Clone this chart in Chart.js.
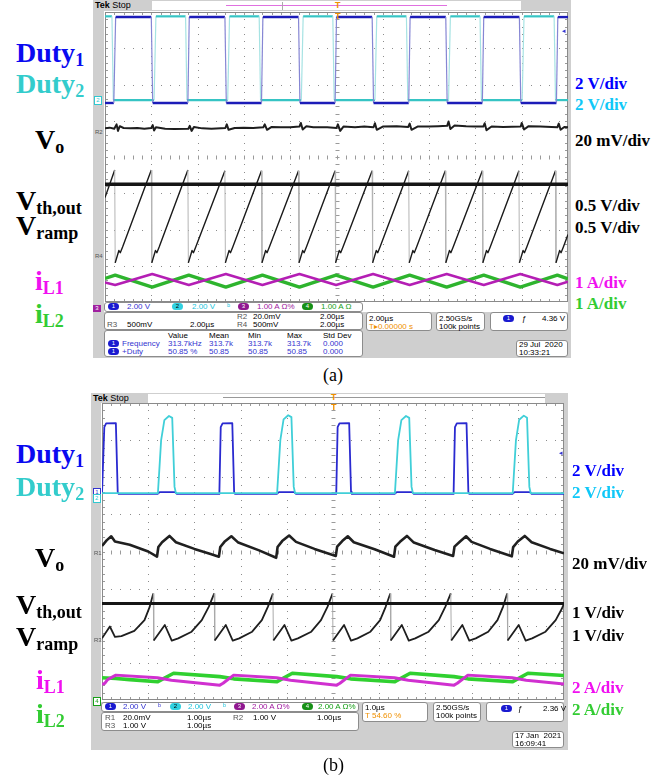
<!DOCTYPE html>
<html lang="pt">
<head>
<meta charset="utf-8">
<title>Duty / Vo / Vramp / iL</title>
<script src="https://cdn.jsdelivr.net/npm/chart.js@4.4.1/dist/chart.umd.min.js"></script>
<style>
  html, body { margin: 0; padding: 0; }
  body { width: 669px; height: 782px; position: relative; overflow: hidden; background: #fff; font-family: 'Liberation Sans', Arial, sans-serif; }
  .frame { position: absolute; background: #cfcfcf; }
  .white { position: absolute; background: #fff; }
  .box { position: absolute; background: #fff; border: 1px solid #8c8c8c; border-radius: 3px; box-sizing: border-box; }
  .ro { position: absolute; white-space: nowrap; font-size: 8px; line-height: 8px; color: #000; }
  .c1 { color: #3434d0; } .c2 { color: #20c4dc; } .c3 { color: #a01aa0; } .c4 { color: #18a018; } .co { color: #f09000; }
  .oval { position: absolute; height: 7px; width: 11px; border-radius: 4px; font-size: 6px; line-height: 7px; text-align: center; color: #fff; }
  .o1 { background: #1a1ad0; } .o2 { background: #30d0e0; color: #000; } .o3 { background: #901890; } .o4 { background: #169016; }
  .mk { position: absolute; font-size: 6px; line-height: 7px; color: #555; white-space: nowrap; }
  .name { position: absolute; white-space: nowrap; font-family: 'Liberation Serif', 'Times New Roman', serif; font-weight: bold; font-size: 28px; line-height: 28px; }
  .name sub { font-size: 18px; line-height: 0; vertical-align: baseline; position: relative; top: 4px; }
  .scale { position: absolute; white-space: nowrap; font-family: 'Liberation Serif', 'Times New Roman', serif; font-weight: bold; font-size: 17px; line-height: 17px; }
  .cap { position: absolute; font-family: 'Liberation Serif', 'Times New Roman', serif; font-size: 18px; line-height: 18px; }
  .trig { position: absolute; font-size: 9px; line-height: 9px; font-weight: bold; color: #f09000; }
  canvas { position: absolute; }
</style>
</head>
<body>

<!-- ================= (a) ================= -->
<div class="frame" style="left:93px; top:0; width:478px; height:358px;"></div>
<div class="white" style="left:152px; top:1px; width:369px; height:9px;"></div>
<div style="position:absolute; left:226px; top:5px; width:221px; height:1px; background:#e070e0;"></div>
<div style="position:absolute; left:282px; top:2px; width:1px; height:8px; background:#aaa;"></div>
<div class="ro" style="left:95px; top:1px; font-size:9px; line-height:9px;"><b>Tek</b> Stop</div>
<div class="white" style="left:104px; top:11px; width:464px; height:301px;"></div>
<canvas id="scopeA" width="463" height="290" style="left:105px; top:12px;"></canvas>
<div class="trig" style="left:335px; top:1px;">T</div>
<div class="trig" style="left:335px; top:12px;">T</div>
<div class="ro c1" style="left:562px; top:27px; font-size:7px;">&#9666;</div>

<div class="mk" style="left:94px; top:96px; border:1px solid #30c8d0; color:#30c8d0; background:#fff; width:6px; text-align:center;">2</div>
<div class="mk" style="left:95px; top:129px;">R2</div>
<div class="mk" style="left:95px; top:253px;">R4</div>
<div class="mk" style="left:93px; top:305px; background:#a020a0; color:#fff; width:8px; text-align:center;">3</div>

<div class="box" style="left:104px; top:302px; width:259px; height:10px;"></div>
<div class="oval o1" style="left:108px; top:303px;">1</div>
<div class="ro c1" style="left:127px; top:303px;">2.00 V</div>
<div class="oval o2" style="left:172px; top:303px;">2</div>
<div class="ro c2" style="left:192px; top:303px;">2.00 V</div>
<div class="ro c2" style="left:227px; top:303px;">ᵇ</div>
<div class="oval o3" style="left:238px; top:303px;">3</div>
<div class="ro c3" style="left:257px; top:303px;">1.00 A Ω%</div>
<div class="oval o4" style="left:302px; top:303px;">4</div>
<div class="ro c4" style="left:321px; top:303px;">1.00 A Ω</div>

<div class="box" style="left:104px; top:312px; width:259px; height:18px;"></div>
<div class="ro" style="left:237px; top:313px; color:#555;">R2</div>
<div class="ro" style="left:253px; top:313px;">20.0mV</div>
<div class="ro" style="left:320px; top:313px;">2.00µs</div>
<div class="ro" style="left:107px; top:321px; color:#555;">R3</div>
<div class="ro" style="left:127px; top:321px;">500mV</div>
<div class="ro" style="left:190px; top:321px;">2.00µs</div>
<div class="ro" style="left:237px; top:321px; color:#555;">R4</div>
<div class="ro" style="left:253px; top:321px;">500mV</div>
<div class="ro" style="left:320px; top:321px;">2.00µs</div>

<div class="box" style="left:104px; top:330px; width:259px; height:27px;"></div>
<div class="ro" style="left:168px; top:332px;">Value</div>
<div class="ro" style="left:209px; top:332px;">Mean</div>
<div class="ro" style="left:248px; top:332px;">Min</div>
<div class="ro" style="left:287px; top:332px;">Max</div>
<div class="ro" style="left:323px; top:332px;">Std Dev</div>
<div class="oval o1" style="left:108px; top:340px;">1</div>
<div class="ro c1" style="left:122px; top:340px;">Frequency</div>
<div class="ro c1" style="left:168px; top:340px;">313.7kHz</div>
<div class="ro c1" style="left:209px; top:340px;">313.7k</div>
<div class="ro c1" style="left:248px; top:340px;">313.7k</div>
<div class="ro c1" style="left:287px; top:340px;">313.7k</div>
<div class="ro c1" style="left:323px; top:340px;">0.000</div>
<div class="oval o1" style="left:108px; top:348px;">1</div>
<div class="ro c1" style="left:122px; top:348px;">+Duty</div>
<div class="ro c1" style="left:168px; top:348px;">50.85 %</div>
<div class="ro c1" style="left:209px; top:348px;">50.85</div>
<div class="ro c1" style="left:248px; top:348px;">50.85</div>
<div class="ro c1" style="left:287px; top:348px;">50.85</div>
<div class="ro c1" style="left:323px; top:348px;">0.000</div>

<div class="box" style="left:366px; top:312px; width:66px; height:19px;"></div>
<div class="ro" style="left:369px; top:315px;">2.00µs</div>
<div class="ro co" style="left:369px; top:323px;">T▸0.00000 s</div>
<div class="box" style="left:436px; top:312px; width:49px; height:19px;"></div>
<div class="ro" style="left:439px; top:315px;">2.50GS/s</div>
<div class="ro" style="left:439px; top:323px;">100k points</div>
<div class="box" style="left:490px; top:312px; width:78px; height:19px;"></div>
<div class="oval o1" style="left:503px; top:315px;">1</div>
<div class="ro" style="left:522px; top:315px;">ƒ</div>
<div class="ro" style="left:542px; top:315px;">4.36 V</div>
<div class="box" style="left:516px; top:340px; width:52px; height:17px;"></div>
<div class="ro" style="left:519px; top:341px;">29 Jul&nbsp; 2020</div>
<div class="ro" style="left:519px; top:349px;">10:33:21</div>

<div class="name" style="left:16px; top:39px; color:#0a0af0;">Duty<sub>1</sub></div>
<div class="name" style="left:16px; top:70px; color:#33cccc;">Duty<sub>2</sub></div>
<div class="name" style="left:35px; top:126px; color:#000;">V<sub>o</sub></div>
<div class="name" style="left:16px; top:187px; color:#000;">V<sub>th,out</sub></div>
<div class="name" style="left:16px; top:212px; color:#000;">V<sub>ramp</sub></div>
<div class="name" style="left:35px; top:267px; color:#f010f0;">i<sub>L1</sub></div>
<div class="name" style="left:35px; top:300px; color:#33cc33;">i<sub>L2</sub></div>

<div class="scale" style="left:575px; top:75px; color:#0000ff;">2 V/div</div>
<div class="scale" style="left:575px; top:96px; color:#10c8f8;">2 V/div</div>
<div class="scale" style="left:575px; top:132px; color:#000;">20 mV/div</div>
<div class="scale" style="left:575px; top:197px; color:#000;">0.5 V/div</div>
<div class="scale" style="left:575px; top:219px; color:#000;">0.5 V/div</div>
<div class="scale" style="left:575px; top:274px; color:#f010f0;">1 A/div</div>
<div class="scale" style="left:575px; top:295px; color:#33cc33;">1 A/div</div>

<div class="cap" style="left:323px; top:366px;">(a)</div>

<!-- ================= (b) ================= -->
<div class="frame" style="left:91px; top:393px; width:477px; height:357px;"></div>
<div class="white" style="left:148px; top:394px; width:397px; height:9px;"></div>
<div style="position:absolute; left:223px; top:397px; width:322px; height:1px; background:#999;"></div>
<div class="ro" style="left:93px; top:394px; font-size:9px; line-height:9px;"><b>Tek</b> Stop</div>
<div class="white" style="left:101px; top:403px; width:463px; height:299px;"></div>
<canvas id="scopeB" width="462" height="297" style="left:102px; top:403px;"></canvas>
<div class="trig" style="left:331px; top:393px;">T</div>
<div class="trig" style="left:331px; top:403px;">T</div>
<div class="ro c1" style="left:559px; top:449px; font-size:7px;">&#9666;</div>

<div class="mk" style="left:93px; top:488px; border:1px solid #3434d0; color:#3434d0; background:#fff; width:6px; text-align:center;">1</div>
<div class="mk" style="left:93px; top:494px; border:1px solid #30c8d0; color:#30c8d0; background:#fff; width:6px; text-align:center;">2</div>
<div class="mk" style="left:94px; top:550px;">R1</div>
<div class="mk" style="left:94px; top:637px;">R3</div>
<div class="mk" style="left:93px; top:697px; border:1px solid #18a018; color:#18a018; background:#fff; width:6px; text-align:center;">4</div>

<div class="box" style="left:101px; top:702px; width:258px; height:10px;"></div>
<div class="oval o1" style="left:105px; top:703px;">1</div>
<div class="ro c1" style="left:123px; top:703px;">2.00 V</div>
<div class="ro c1" style="left:158px; top:703px;">ᵇ</div>
<div class="oval o2" style="left:170px; top:703px;">2</div>
<div class="ro c2" style="left:188px; top:703px;">2.00 V</div>
<div class="ro c2" style="left:223px; top:703px;">ᵇ</div>
<div class="oval o3" style="left:234px; top:703px;">3</div>
<div class="ro c3" style="left:252px; top:703px;">2.00 A Ω%</div>
<div class="oval o4" style="left:302px; top:703px;">4</div>
<div class="ro c4" style="left:318px; top:703px;">2.00 A Ω%</div>

<div class="box" style="left:101px; top:712px; width:258px; height:19px;"></div>
<div class="ro" style="left:105px; top:714px; color:#555;">R1</div>
<div class="ro" style="left:123px; top:714px;">20.0mV</div>
<div class="ro" style="left:187px; top:714px;">1.00µs</div>
<div class="ro" style="left:233px; top:714px; color:#555;">R2</div>
<div class="ro" style="left:253px; top:714px;">1.00 V</div>
<div class="ro" style="left:317px; top:714px;">1.00µs</div>
<div class="ro" style="left:105px; top:722px; color:#555;">R3</div>
<div class="ro" style="left:123px; top:722px;">1.00 V</div>
<div class="ro" style="left:187px; top:722px;">1.00µs</div>

<div class="box" style="left:362px; top:702px; width:66px; height:20px;"></div>
<div class="ro" style="left:365px; top:704px;">1.0µs</div>
<div class="ro co" style="left:365px; top:712px;">T 54.60 %</div>
<div class="box" style="left:433px; top:702px; width:48px; height:20px;"></div>
<div class="ro" style="left:436px; top:704px;">2.50GS/s</div>
<div class="ro" style="left:436px; top:712px;">100k points</div>
<div class="box" style="left:486px; top:702px; width:78px; height:20px;"></div>
<div class="oval o1" style="left:501px; top:705px;">1</div>
<div class="ro" style="left:518px; top:705px;">ƒ</div>
<div class="ro" style="left:543px; top:705px;">2.36 V</div>
<div class="box" style="left:512px; top:731px; width:52px; height:17px;"></div>
<div class="ro" style="left:515px; top:732px;">17 Jan&nbsp; 2021</div>
<div class="ro" style="left:515px; top:740px;">16:09:41</div>

<div class="name" style="left:16px; top:440px; color:#0a0af0;">Duty<sub>1</sub></div>
<div class="name" style="left:16px; top:473px; color:#33cccc;">Duty<sub>2</sub></div>
<div class="name" style="left:35px; top:544px; color:#000;">V<sub>o</sub></div>
<div class="name" style="left:16px; top:591px; color:#000;">V<sub>th,out</sub></div>
<div class="name" style="left:16px; top:623px; color:#000;">V<sub>ramp</sub></div>
<div class="name" style="left:36px; top:666px; color:#f010f0;">i<sub>L1</sub></div>
<div class="name" style="left:36px; top:700px; color:#33cc33;">i<sub>L2</sub></div>

<div class="scale" style="left:572px; top:462px; color:#0000ff;">2 V/div</div>
<div class="scale" style="left:572px; top:484px; color:#10c8f8;">2 V/div</div>
<div class="scale" style="left:572px; top:555px; color:#000;">20 mV/div</div>
<div class="scale" style="left:572px; top:604px; color:#000;">1 V/div</div>
<div class="scale" style="left:572px; top:627px; color:#000;">1 V/div</div>
<div class="scale" style="left:572px; top:679px; color:#f010f0;">2 A/div</div>
<div class="scale" style="left:572px; top:701px; color:#33cc33;">2 A/div</div>

<div class="cap" style="left:323px; top:756px;">(b)</div>

<script>
//--------------------------------------------------
// DADOS (a) — pontos em divisões (x 0..10, y 0..8)
//--------------------------------------------------

const duty1A = [[0,5.49],[0.19,5.49],[0.23,7.86],[1.0,7.86],[1.03,5.49],[1.79,5.49],[1.82,7.86],[2.59,7.86],[2.62,5.49],[3.38,5.49],[3.41,7.86],[4.18,7.86],[4.21,5.49],[4.97,5.49],[5.0,7.86],[5.77,7.86],[5.8,5.49],[6.56,5.49],[6.59,7.86],[7.36,7.86],[7.39,5.49],[8.15,5.49],[8.18,7.86],[8.95,7.86],[8.98,5.49],[9.75,5.49],[9.78,7.86],[10,7.86]];

const duty2A = [[0,7.88],[0.15,7.88],[0.18,5.57],[1.06,5.57],[1.1,7.88],[1.74,7.88],[1.77,5.57],[2.65,5.57],[2.69,7.88],[3.33,7.88],[3.36,5.57],[4.24,5.57],[4.28,7.88],[4.92,7.88],[4.95,5.57],[5.83,5.57],[5.87,7.88],[6.51,7.88],[6.54,5.57],[7.42,5.57],[7.46,7.88],[8.1,7.88],[8.13,5.57],[9.01,5.57],[9.05,7.88],[9.7,7.88],[9.73,5.57],[10,5.57]];

const voA = [[0,4.79],[0.1,4.81],[0.2,4.78],[0.25,4.9],[0.28,4.72],[0.32,4.85],[0.4,4.8],[0.55,4.79],[0.7,4.8],[0.85,4.78],[1.0,4.8],[1.03,4.88],[1.06,4.73],[1.1,4.82],[1.3,4.78],[1.5,4.77],[1.8,4.78],[1.83,4.86],[1.87,4.72],[1.92,4.83],[2.1,4.79],[2.3,4.78],[2.6,4.8],[2.63,4.9],[2.67,4.75],[2.8,4.8],[3.0,4.81],[3.2,4.8],[3.42,4.82],[3.45,4.9],[3.5,4.75],[3.6,4.83],[3.8,4.82],[4.0,4.82],[4.2,4.84],[4.23,4.94],[4.27,4.76],[4.35,4.85],[4.5,4.82],[4.8,4.82],[5.0,4.8],[5.03,4.9],[5.08,4.72],[5.15,4.84],[5.4,4.82],[5.6,4.84],[5.8,4.82],[5.83,4.93],[5.87,4.75],[6.0,4.84],[6.3,4.85],[6.55,4.83],[6.58,4.92],[6.62,4.75],[6.75,4.84],[7.0,4.84],[7.2,4.85],[7.39,4.86],[7.42,4.98],[7.46,4.77],[7.55,4.87],[7.8,4.85],[8.0,4.84],[8.17,4.84],[8.2,4.93],[8.24,4.74],[8.35,4.84],[8.6,4.83],[8.98,4.84],[9.0,4.94],[9.05,4.76],[9.15,4.85],[9.4,4.84],[9.77,4.82],[9.8,4.92],[9.84,4.75],[9.92,4.83],[10,4.82]];

const vthA = [[0,3.25],[10,3.25]];

const rampA = [[0,2.88],
  [0.21,3.64],[0.22,1.08],[0.30,1.42],[0.33,1.36],[0.38,1.52],
  [1.0,3.64],[1.01,1.08],[1.09,1.42],[1.12,1.36],[1.17,1.52],
  [1.79,3.64],[1.8,1.08],[1.88,1.42],[1.91,1.36],[1.96,1.52],
  [2.59,3.62],[2.6,1.08],[2.68,1.42],[2.71,1.36],[2.76,1.52],
  [3.38,3.62],[3.39,1.08],[3.47,1.42],[3.5,1.36],[3.55,1.52],
  [4.18,3.62],[4.19,1.08],[4.27,1.42],[4.3,1.36],[4.35,1.52],
  [4.97,3.62],[4.98,1.08],[5.06,1.42],[5.09,1.36],[5.14,1.52],
  [5.77,3.62],[5.78,1.08],[5.86,1.42],[5.89,1.36],[5.94,1.52],
  [6.56,3.62],[6.57,1.08],[6.65,1.42],[6.68,1.36],[6.73,1.52],
  [7.35,3.62],[7.36,1.08],[7.44,1.42],[7.47,1.36],[7.52,1.52],
  [8.15,3.62],[8.16,1.08],[8.24,1.42],[8.27,1.36],[8.32,1.52],
  [8.94,3.62],[8.95,1.08],[9.03,1.42],[9.06,1.36],[9.11,1.52],
  [9.73,3.62],[9.74,1.08],[9.82,1.42],[9.85,1.36],[9.9,1.52],
  [10,1.86]];

const iL1A = [[0,0.54],[0.22,0.47],[1.02,0.77],[1.81,0.47],[2.61,0.77],[3.4,0.47],[4.2,0.77],[4.99,0.47],[5.79,0.77],[6.58,0.47],[7.38,0.77],[8.18,0.47],[8.97,0.77],[9.77,0.47],[10,0.56]];

const iL2A = [[0,0.65],[0.22,0.74],[1.02,0.41],[1.81,0.74],[2.61,0.41],[3.4,0.74],[4.2,0.41],[4.99,0.74],[5.79,0.41],[6.58,0.74],[7.38,0.41],[8.18,0.74],[8.97,0.41],[9.77,0.74],[10,0.64]];

//--------------------------------------------------
// DADOS (b)
//--------------------------------------------------

const duty1B = [[0,5.55],[0.02,5.55],[0.05,7.35],[0.09,7.45],[0.3,7.46],[0.34,5.6],[0.36,5.55],
  [1.2,5.55],[1.25,5.6],[1.58,5.6],[1.62,5.55],
  [2.54,5.55],[2.57,7.35],[2.61,7.45],[2.82,7.46],[2.86,5.6],[2.88,5.55],
  [3.78,5.55],[3.83,5.6],[4.16,5.6],[4.2,5.55],
  [5.07,5.55],[5.1,7.35],[5.14,7.45],[5.35,7.46],[5.39,5.6],[5.41,5.55],
  [6.33,5.55],[6.38,5.6],[6.71,5.6],[6.75,5.55],
  [7.61,5.55],[7.64,7.35],[7.68,7.45],[7.89,7.46],[7.93,5.6],[7.95,5.55],
  [8.88,5.55],[8.93,5.6],[9.26,5.6],[9.3,5.55],[10,5.55]];

const duty2B = [[0,5.57],
  [1.21,5.57],[1.28,7.0],[1.35,7.54],[1.45,7.65],[1.52,7.6],[1.57,5.74],[1.6,5.57],
  [3.79,5.57],[3.86,7.0],[3.93,7.56],[4.03,7.67],[4.1,7.62],[4.15,5.74],[4.18,5.57],
  [6.34,5.57],[6.41,7.0],[6.48,7.54],[6.58,7.65],[6.65,7.6],[6.7,5.74],[6.73,5.57],
  [8.89,5.57],[8.96,7.0],[9.03,7.55],[9.13,7.66],[9.2,7.6],[9.25,5.74],[9.28,5.57],
  [10,5.57]];

const voB = [[0,4.15],[0.1,4.3],[0.2,4.41],[0.28,4.27],[0.6,4.18],[1.0,4.0],[1.19,3.86],[1.22,4.12],[1.3,4.25],[1.46,4.42],[1.6,4.25],[2.0,4.07],[2.35,3.93],[2.53,3.86],[2.56,4.12],[2.65,4.26],[2.8,4.41],[2.95,4.24],[3.4,4.03],[3.77,3.83],[3.8,4.12],[3.9,4.28],[4.05,4.43],[4.2,4.26],[4.6,4.07],[5.06,3.88],[5.09,4.13],[5.2,4.28],[5.32,4.41],[5.45,4.25],[5.9,4.06],[6.32,3.86],[6.35,4.13],[6.45,4.26],[6.6,4.42],[6.75,4.24],[7.2,4.04],[7.6,3.88],[7.63,4.13],[7.75,4.27],[7.88,4.41],[8.0,4.26],[8.4,4.07],[8.87,3.87],[8.9,4.12],[9.0,4.27],[9.15,4.42],[9.3,4.25],[9.7,4.07],[10,3.95]];

const vthB = [[0,2.6],[10,2.6]];

const rampB = [[0,1.66],[0.17,1.98],[0.28,1.7],[0.42,1.72],[0.7,1.86],[0.92,2.15],[1.03,2.5],[1.11,2.87],
  [1.12,1.6],[1.36,2.02],[1.51,1.6],[1.65,1.66],[1.94,1.84],[2.16,2.15],[2.31,2.51],[2.43,2.87],
  [2.44,1.6],[2.68,2.02],[2.83,1.6],[2.97,1.66],[3.25,1.84],[3.46,2.15],[3.59,2.51],[3.70,2.87],
  [3.71,1.6],[3.95,2.02],[4.1,1.6],[4.24,1.66],[4.53,1.84],[4.74,2.15],[4.88,2.51],[4.99,2.87],
  [5.0,1.6],[5.24,2.02],[5.39,1.6],[5.53,1.66],[5.81,1.84],[6.02,2.15],[6.14,2.51],[6.24,2.87],
  [6.25,1.6],[6.49,2.02],[6.64,1.6],[6.78,1.66],[7.07,1.84],[7.29,2.15],[7.43,2.51],[7.55,2.87],
  [7.56,1.6],[7.8,2.02],[7.95,1.6],[8.09,1.66],[8.36,1.84],[8.56,2.15],[8.68,2.51],[8.77,2.87],
  [8.78,1.6],[9.02,2.02],[9.17,1.6],[9.31,1.66],[9.6,1.84],[9.82,2.15],[9.95,2.45],[10,2.6]];

const iL1B = [[0,0.42],[0.06,0.45],[0.12,0.55],[0.3,0.67],[1.2,0.6],[1.5,0.53],[2.55,0.4],[2.62,0.45],[2.85,0.67],[3.78,0.6],[4.08,0.53],[5.08,0.4],[5.15,0.45],[5.38,0.67],[6.33,0.6],[6.63,0.53],[7.62,0.4],[7.69,0.45],[7.92,0.67],[8.88,0.6],[9.18,0.53],[10,0.43]];

const iL2B = [[0,0.6],[0.3,0.58],[0.6,0.55],[1.2,0.49],[1.55,0.72],[2.55,0.63],[2.85,0.57],[3.78,0.49],[4.12,0.72],[5.08,0.63],[5.38,0.57],[6.33,0.49],[6.67,0.72],[7.62,0.63],[7.92,0.57],[8.88,0.49],[9.22,0.72],[10,0.66]];

//--------------------------------------------------
// GRATICULA — pontos nas divisões da escala,
// marcas do centro e das bordas
//--------------------------------------------------

const graticula = {
  id: 'graticula',
  beforeDatasetsDraw(chart) {
    const { ctx, chartArea: { left, right, top, bottom }, scales: { x, y } } = chart;
    ctx.save();

    // pontos ao longo de cada linha de divisão
    ctx.fillStyle = '#8c8c8c';
    x.ticks.forEach(t => {
      const px = Math.round(x.getPixelForValue(t.value));
      for (let j = 0; j <= 40; j++) {
        ctx.fillRect(px, Math.round(y.getPixelForValue(j / 5)), 1, 1);
      }
    });
    y.ticks.forEach(t => {
      const py = Math.round(y.getPixelForValue(t.value));
      for (let i = 0; i <= 50; i++) {
        ctx.fillRect(Math.round(x.getPixelForValue(i / 5)), py, 1, 1);
      }
    });

    // marcas do eixo central e das bordas
    ctx.strokeStyle = '#9a9a9a';
    ctx.lineWidth = 1;
    const cx = Math.round(x.getPixelForValue(5)) + 0.5;
    const cy = Math.round(y.getPixelForValue(4)) + 0.5;

    ctx.beginPath();
    for (let i = 0; i <= 50; i++) {
      const px = Math.round(x.getPixelForValue(i / 5)) + 0.5;
      ctx.moveTo(px, cy - 2); ctx.lineTo(px, cy + 2);
      ctx.moveTo(px, top);    ctx.lineTo(px, top + 3);
      ctx.moveTo(px, bottom); ctx.lineTo(px, bottom - 3);
    }
    for (let j = 0; j <= 40; j++) {
      const py = Math.round(y.getPixelForValue(j / 5)) + 0.5;
      ctx.moveTo(cx - 2, py);  ctx.lineTo(cx + 2, py);
      ctx.moveTo(left, py);    ctx.lineTo(left + 3, py);
      ctx.moveTo(right, py);   ctx.lineTo(right - 3, py);
    }
    ctx.stroke();

    ctx.strokeStyle = '#8a8a8a';
    ctx.strokeRect(left + 0.5, top + 0.5, right - left - 1, bottom - top - 1);
    ctx.restore();
  }
};

//--------------------------------------------------
// ESTILO DOS SEGMENTOS (bordas verticais mais claras)
//--------------------------------------------------

function ingreme(ctx) {
  const dx = Math.abs(ctx.p1.parsed.x - ctx.p0.parsed.x);
  const dy = Math.abs(ctx.p1.parsed.y - ctx.p0.parsed.y);
  return dx < 0.05 && dy > 0.9;
}

function serie(pares, cor, largura, corBorda, larguraBorda) {
  return {
    data: pares.map(([x, y]) => ({ x, y })),
    borderColor: cor,
    borderWidth: largura,
    segment: corBorda ? {
      borderColor: ctx => ingreme(ctx) ? corBorda : undefined,
      borderWidth: ctx => ingreme(ctx) ? larguraBorda : undefined
    } : undefined
  };
}

//--------------------------------------------------
// CRIAR OSCILOSCOPIO
//--------------------------------------------------

function criarScope(id, datasets) {
  return new Chart(document.getElementById(id), {
    type: 'line',
    data: { datasets },
    options: {
      responsive: false,
      animation: false,
      parsing: false,
      layout: { padding: 0 },
      elements: { point: { radius: 0 }, line: { tension: 0, borderJoinStyle: 'round' } },
      plugins: { legend: { display: false }, tooltip: { enabled: false } },
      scales: {
        x: {
          type: 'linear', min: 0, max: 10,
          ticks: { display: false, stepSize: 1 },
          grid: { display: false, drawTicks: false },
          border: { display: false }
        },
        y: {
          type: 'linear', min: 0, max: 8,
          ticks: { display: false, stepSize: 1 },
          grid: { display: false, drawTicks: false },
          border: { display: false }
        }
      }
    },
    plugins: [graticula]
  });
}

//--------------------------------------------------
// (a)
//--------------------------------------------------

criarScope('scopeA', [
  serie(duty1A, '#1c1cb8', 2.4, '#8686d4', 1.2),
  serie(duty2A, '#36c4c4', 2.2, '#a6e3e3', 1.2),
  serie(iL1A,   '#b41eb4', 2.6),
  serie(iL2A,   '#2eb42e', 3.4),
  serie(vthA,   '#151515', 3.6),
  serie(rampA,  '#1a1a1a', 1.4, '#b4b4b4', 1),
  serie(voA,    '#1e1e1e', 2)
]);

//--------------------------------------------------
// (b)
//--------------------------------------------------

criarScope('scopeB', [
  serie(duty2B, '#40cfd8', 1.8),
  serie(duty1B, '#2a2ad0', 1.8),
  serie(iL1B,   '#d030d0', 3),
  serie(iL2B,   '#30d030', 3.6),
  serie(vthB,   '#151515', 3.2),
  serie(rampB,  '#1e1e1e', 1.8, '#aaaaaa', 1),
  serie(voB,    '#202020', 2.6)
]);
</script>
</body>
</html>
